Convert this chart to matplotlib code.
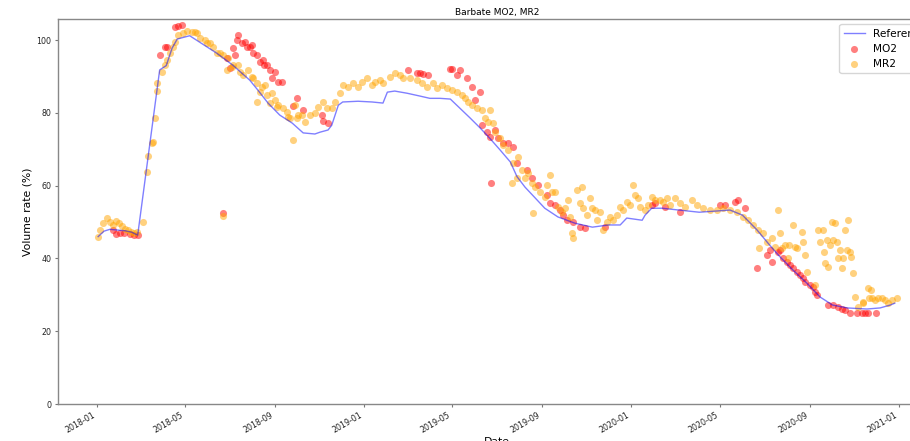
import numpy as np
import pandas as pd
import matplotlib
matplotlib.use("Agg")
import matplotlib.pyplot as plt
import matplotlib.dates as mdates

# days are counted from this date
start = pd.Timestamp("2018-01-01")

# reference volume curve
ref_day = [2, 10, 18, 39, 48, 56, 86, 95, 103, 110, 127, 164, 186, 209, 220, 234,
           250, 267, 282, 298, 305, 316, 321, 330, 336, 357, 376, 391, 397, 407,
           424, 442, 455, 469, 483, 496, 510, 524, 537, 551, 565, 574, 585, 599,
           612, 630, 653, 677, 699, 715, 724, 745, 749, 758, 772, 823, 865, 882,
           902, 919, 933, 951, 970, 988, 1005, 1025, 1052, 1070, 1084, 1090]
ref_val = [46.0, 47.5, 48.0, 47.6, 47.2, 46.4, 91.8, 93.0, 97.8, 100.3, 101.2,
           96.4, 93.1, 89.0, 86.3, 82.7, 79.4, 77.2, 74.5, 74.2, 74.7, 75.3, 76.6,
           82.1, 83.0, 83.2, 83.0, 82.7, 85.7, 86.0, 85.4, 84.6, 84.0, 84.0, 83.8,
           81.3, 78.6, 75.8, 73.0, 69.8, 66.5, 62.5, 59.6, 56.6, 53.8, 51.4, 49.7,
           48.6, 49.2, 49.2, 51.1, 50.5, 51.9, 53.8, 53.8, 52.7, 53.3, 51.9, 47.8,
           43.7, 40.5, 36.8, 33.2, 29.4, 27.2, 26.4, 26.1, 26.4, 27.2, 27.7]

# MO2 estimates
mo2_day = [22, 26, 32, 37, 45, 51, 56, 86, 93, 96, 107, 111, 117, 173, 178, 182,
           186, 189, 192, 193, 198, 202, 205, 209, 212, 213, 219, 223, 227, 228,
           233, 237, 240, 244, 248, 253, 268, 274, 282, 308, 309, 316, 425, 438,
           442, 446, 452, 483, 485, 492, 496, 506, 513, 517, 524, 526, 533, 537,
           538, 544, 548, 555, 562, 569, 574, 588, 595, 603, 615, 619, 626, 633,
           637, 642, 651, 660, 667, 694, 758, 762, 776, 797, 851, 858, 872, 876,
           885, 902, 916, 919, 922, 931, 933, 937, 943, 947, 951, 957, 961, 965,
           967, 974, 978, 981, 984, 999, 1006, 1013, 1018, 1022, 1029, 1039, 1045,
           1049, 1053, 1065]
mo2_val = [47.8, 46.7, 47.0, 47.0, 46.7, 46.4, 46.4, 95.9, 98.1, 98.1, 103.6,
           103.8, 104.1, 52.5, 95.0, 92.3, 97.8, 95.9, 100.0, 101.4, 99.2, 99.5,
           98.1, 98.1, 98.6, 96.4, 95.9, 94.0, 94.5, 93.1, 93.1, 91.8, 89.6, 91.2,
           88.5, 88.5, 82.0, 84.1, 80.8, 79.4, 77.7, 77.2, 91.8, 90.9, 90.9, 90.7,
           90.4, 92.0, 92.0, 90.4, 91.8, 89.6, 87.1, 83.5, 85.7, 76.6, 74.7, 73.4,
           60.7, 75.3, 73.0, 71.7, 71.7, 70.6, 66.2, 64.3, 62.1, 60.2, 57.4, 55.2,
           54.7, 53.3, 51.9, 50.5, 50.0, 48.6, 48.4, 48.6, 54.7, 55.2, 54.1, 52.7,
           54.7, 54.7, 55.5, 56.0, 53.8, 37.4, 40.9, 42.3, 39.0, 41.8, 42.3, 40.1,
           39.0, 38.2, 37.4, 36.3, 35.4, 34.6, 33.5, 32.7, 32.1, 30.8, 29.9, 27.2,
           27.2, 26.6, 26.1, 25.8, 25.0, 25.0, 25.0, 25.0, 25.0, 25.0]

# MR2 estimates
mr2_day = [2, 5, 9, 14, 18, 22, 26, 30, 35, 39, 43, 47, 51, 55, 63, 69, 70, 76,
           77, 80, 82, 83, 89, 93, 96, 100, 104, 107, 111, 118, 123, 130, 134, 137,
           141, 148, 151, 155, 159, 164, 168, 173, 173, 178, 179, 185, 186, 193,
           196, 200, 206, 212, 213, 219, 219, 223, 226, 230, 233, 237, 240, 244,
           246, 248, 254, 260, 261, 264, 268, 271, 274, 275, 280, 285, 291, 298,
           302, 309, 314, 321, 325, 332, 336, 343, 350, 357, 362, 369, 376, 380,
           387, 391, 401, 407, 414, 419, 428, 438, 444, 451, 459, 465, 472, 479,
           485, 492, 499, 503, 507, 513, 520, 526, 530, 535, 537, 541, 544, 551,
           555, 562, 567, 569, 574, 575, 581, 585, 589, 595, 596, 599, 606, 612,
           615, 619, 622, 626, 630, 636, 640, 644, 647, 649, 651, 656, 660, 663,
           664, 670, 674, 677, 681, 683, 687, 691, 697, 701, 705, 711, 715, 719,
           724, 728, 733, 735, 739, 742, 749, 753, 758, 762, 769, 773, 779, 783,
           790, 797, 804, 813, 820, 828, 838, 847, 856, 865, 875, 883, 890, 896,
           903, 904, 910, 916, 922, 927, 931, 933, 936, 940, 944, 945, 951, 954,
           957, 963, 965, 967, 970, 981, 985, 988, 992, 993, 995, 997, 999, 1001,
           1004, 1006, 1008, 1011, 1012, 1015, 1018, 1019, 1022, 1025, 1026, 1029,
           1030, 1033, 1036, 1040, 1046, 1047, 1053, 1055, 1057, 1059, 1063, 1067,
           1073, 1077, 1081, 1086, 1093]
mr2_val = [45.9, 47.8, 49.7, 51.1, 50.0, 49.2, 50.3, 49.7, 48.9, 48.1, 47.8,
           47.3, 47.0, 47.3, 50.0, 63.7, 68.2, 71.8, 72.0, 78.6, 86.0, 88.2, 91.2,
           93.1, 94.5, 96.4, 98.1, 99.5, 101.4, 101.9, 102.5, 102.2, 102.2, 101.9,
           100.5, 100.0, 99.2, 99.2, 98.1, 96.4, 96.4, 95.9, 51.6, 91.8, 95.0, 92.6,
           93.1, 93.1, 91.2, 90.4, 91.8, 89.8, 89.6, 88.2, 83.0, 85.7, 87.1, 87.6,
           84.9, 82.7, 85.4, 83.5, 81.6, 82.1, 81.3, 80.2, 78.8, 78.6, 72.5, 82.1,
           78.6, 79.4, 79.4, 77.5, 79.4, 80.0, 81.6, 83.0, 81.3, 81.3, 83.0, 85.4,
           87.6, 87.1, 88.2, 87.1, 88.5, 89.6, 87.6, 88.5, 89.0, 88.2, 89.8, 90.9,
           90.4, 89.6, 89.6, 89.0, 88.2, 87.1, 88.2, 86.8, 87.6, 86.8, 86.3, 85.7,
           84.9, 84.1, 83.0, 82.1, 81.3, 80.8, 78.6, 77.5, 80.8, 77.2, 74.7, 73.0,
           71.2, 69.8, 60.7, 66.2, 62.1, 67.9, 64.3, 62.1, 63.5, 60.7, 52.5, 59.6,
           58.2, 56.9, 60.2, 62.9, 58.2, 58.2, 54.1, 52.7, 53.8, 56.0, 51.4, 47.0,
           45.6, 58.8, 55.2, 59.6, 53.8, 51.9, 56.6, 53.8, 53.3, 50.5, 52.7, 47.8,
           50.0, 51.4, 50.5, 51.9, 54.1, 53.3, 55.5, 54.7, 60.2, 57.4, 56.6, 54.1,
           53.3, 54.7, 56.9, 56.0, 56.0, 55.5, 56.6, 54.7, 56.6, 55.2, 54.1, 56.0,
           54.7, 53.8, 53.3, 53.3, 53.8, 53.3, 52.7, 51.4, 50.5, 49.2, 47.8, 42.9,
           47.0, 44.5, 45.6, 43.1, 53.3, 47.0, 42.9, 43.7, 40.1, 43.7, 49.2, 43.1,
           42.9, 47.3, 44.5, 40.9, 36.3, 32.7, 47.8, 44.5, 47.8, 41.8, 38.7, 45.1,
           37.6, 43.7, 50.0, 45.1, 49.7, 44.5, 40.1, 42.3, 37.4, 40.1, 47.8, 42.3,
           50.5, 41.8, 40.4, 36.0, 29.4, 26.6, 28.0, 27.7, 31.9, 29.1, 31.3, 29.1,
           28.6, 29.1, 29.1, 28.6, 27.7, 28.6, 29.1]


def to_dates(days):
    return start + pd.to_timedelta(days, unit="D")


fig = plt.figure(figsize=(9.1, 4.41), dpi=100)
# axes runs a little past the right edge of the figure
ax = fig.add_axes([0.0637, 0.0839, 0.965, 0.873])

ax.plot(to_dates(ref_day), ref_val, color="blue", alpha=0.5, lw=1.0, label="Reference")
ax.scatter(to_dates(mo2_day), mo2_val, color="red", alpha=0.5, s=26, lw=0, label="MO2")
ax.scatter(to_dates(mr2_day), mr2_val, color="orange", alpha=0.5, s=26, lw=0, label="MR2")

ax.set_xlim(start - pd.Timedelta(days=52.9), start + pd.Timedelta(days=1146.5))
ax.set_ylim(0, 105.8)

ax.xaxis.set_major_locator(mdates.MonthLocator(bymonth=[1, 5, 9]))
ax.xaxis.set_major_formatter(mdates.DateFormatter("%Y-%m"))
ax.set_yticks([0, 20, 40, 60, 80, 100])

ax.tick_params(axis="both", labelsize=5.7, length=2.2, pad=2.5,
               color="#777777", labelcolor="#222222")
for lbl in ax.get_xticklabels():
    lbl.set_rotation(30)
    lbl.set_ha("right")

for sp in ax.spines.values():
    sp.set_color("#888888")
    sp.set_linewidth(1.0)

ax.set_title("Barbate MO2, MR2", fontsize=6.5, pad=3)
ax.set_ylabel("Volume rate (%)", fontsize=7.8)
ax.yaxis.set_label_coords(-0.0285, 0.5)
ax.set_xlabel("Date", fontsize=7.8)
ax.xaxis.set_label_coords(0.5, -0.0857)

ax.legend(loc="upper right", fontsize=7.6, borderaxespad=0.5)

fig.savefig("out.png", dpi=100)
